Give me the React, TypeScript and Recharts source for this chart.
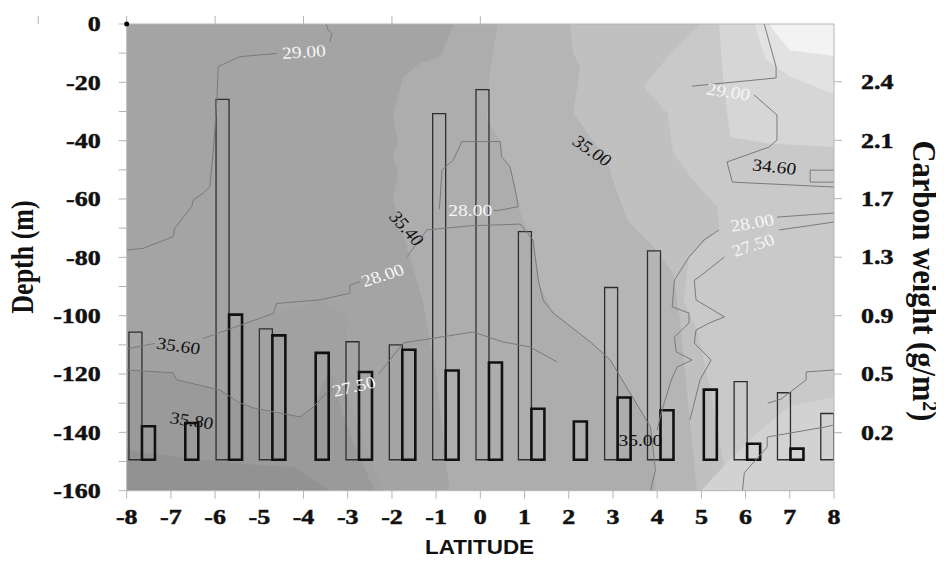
import React from 'react';
import { ComposedChart, XAxis, YAxis, Bar, Line, Area, Scatter, ReferenceDot } from 'recharts';

// stations (latitude of each bar pair) and carbon weights
const STATION_LAT = [-7.65, -6.67, -5.68, -4.7, -3.72, -2.74, -1.76, -0.78, 0.2, 1.16, 2.12, 3.11, 4.08, 5.06, 6.04, 7.02, 8.0];
const THIN_BARS = [0.83, null, 2.29, 0.85, null, 0.77, 0.75, 2.2, 2.35, 1.46, null, 1.11, 1.34, null, 0.52, 0.45, 0.32];
const THICK_BARS = [0.24, 0.26, 0.94, 0.81, 0.7, 0.58, 0.72, 0.59, 0.64, 0.35, 0.27, 0.42, 0.34, 0.47, 0.13, 0.1, null];
const BAR_BASE = 0.03;

const LAT_TICKS = [-8, -7, -6, -5, -4, -3, -2, -1, 0, 1, 2, 3, 4, 5, 6, 7, 8];
const TOP_TICKS = [-8, -6, -4, -2, 0, 2, 4, 6, 8];
const DEPTH_TICKS = [-160, -150, -140, -130, -120, -110, -100, -90, -80, -70, -60, -50, -40, -30, -20, -10, 0];
const CARBON_TICKS = [0.2, 0.567, 0.933, 1.3, 1.667, 2.033, 2.4];
const CARBON_LABELS = ['0.2', '0.5', '0.9', '1.3', '1.7', '2.1', '2.4'];

// filled contour bands, [lat, depth] outlines
const BAND_BASE = [[-8, 0], [-8, -160], [8, -160], [8, 0]];
const BAND_LEFT_MID = [[-8, -111.4], [-6.27, -107.8], [-4.68, -99.2], [-3.63, -94.6], [-3.0, -100], [-3.1, -125], [-2.2, -160]];
const BAND_LEFT_LOW = [[-8, -118.6], [-6.95, -119.6], [-6.87, -122], [-5.89, -125.5], [-5.44, -129.9], [-5.14, -131.6], [-4.08, -134.7], [-3.78, -131.3], [-3.4, -118], [-3.1, -135], [-2.4, -160]];
const BAND_BOTTOM = [[-8, -146], [-6.6, -149], [-5.2, -151], [-4.2, -152], [-3.4, -160]];
const BAND_MID = [[-0.6, 0], [-0.91, -11.3], [-1.36, -13.4], [-1.75, -18.2], [-1.98, -31.9], [-1.86, -39.8], [-1.98, -45.6], [-1.86, -51.1], [-1.98, -60.3], [-1.64, -77.5], [-1.3, -95], [-1.0, -120], [-0.7, -160], [8, -160], [8, 0]];
const BAND_MID2 = [[0.4, 0], [0.22, -15.8], [0.15, -32.9], [0.45, -40.3], [0.48, -45.5], [0.67, -48.9], [0.79, -56.9], [0.86, -62.6], [1.0, -68.6], [1.2, -74], [1.35, -90], [1.65, -99], [2.5, -109], [2.94, -115], [3.85, -138], [3.96, -160], [8, -160], [8, 0]];
const BAND_RIGHT1 = [[2.03, 0], [2.1, -10], [2.26, -14.7], [2.1, -30.5], [2.42, -37.4], [2.87, -46.6], [3.0, -53.5], [3.32, -67.2], [3.91, -76.4], [4.36, -85.4], [4.52, -101.5], [4.7, -130], [4.9, -160], [8, -160], [8, 0]];
const BAND_RIGHT2 = [[4.98, 0], [4.3, -10], [3.69, -21.6], [4.23, -30.5], [4.36, -44.2], [4.81, -53.5], [5.36, -62.7], [5.4, -70], [4.72, -80], [4.6, -95], [4.9, -105], [5.2, -125], [5.6, -160], [8, -160], [8, 0]];
const BAND_BOTTOM_RIGHT = [[5.0, -160], [5.6, -150], [6.2, -141], [7.0, -131], [8, -128], [8, -160]];
const BAND_TOP_RIGHT1 = [[5.4, 0], [5.5, -20], [5.65, -38.7], [6.5, -41], [8, -42.2], [8, 0]];
const BAND_TOP_RIGHT2 = [[6.2, 0], [6.45, -12], [7.0, -18], [8, -24], [8, 0]];
const BAND_TOP_RIGHT3 = [[6.55, 0], [6.62, -2], [7.0, -9], [8, -11], [8, 0]];

// contour lines, [lat, depth]
const LINE_29_W1 = [[-8, -77.5], [-7.62, -76.9], [-6.95, -72.9], [-6.91, -70], [-6.53, -62.6], [-6.49, -60.3], [-6.27, -58], [-6.12, -55.8], [-6.04, -43.2], [-5.96, -26.1], [-5.93, -14.6], [-5.44, -11.2], [-4.61, -10.1]];
const LINE_29_W2 = [[-3.4, -6.1], [-3.36, -3.2], [-3.44, -2.1], [-3.49, 0]];
const LINE_MID_A = [[-8, -111.4], [-7.36, -109.5]];
const LINE_MID_B = [[-6.27, -107.8], [-4.68, -99.2], [-4.61, -95.8], [-3.63, -94.6], [-2.95, -92.3], [-2.95, -89.5], [-2.72, -88.3]];
const LINE_MID_C = [[-1.66, -79.8], [-1.21, -70.6], [-0.23, -69.2], [0.9, -68.6], [1.19, -74], [1.31, -87.8], [1.42, -94.6], [1.65, -99.1], [2.49, -109], [2.94, -115.2], [3.85, -138.2], [3.96, -152.9], [3.85, -160]];
const LOOP_28 = [[-0.93, -63.5], [-0.91, -60.3], [-0.87, -50.1], [-0.61, -46.6], [-0.42, -40.3], [0.45, -40.3], [0.48, -45.5], [0.67, -48.9], [0.79, -56.9], [0.86, -62.6], [0.45, -63.8], [0.3, -64]];
const LINE_LOW_A = [[-8, -118.6], [-6.95, -119.6], [-6.87, -122], [-5.89, -125.5], [-5.44, -129.9], [-5.14, -131.6], [-4.08, -134.7], [-3.78, -131.3], [-3.45, -126]];
const LINE_LOW_B = [[-2.3, -120], [-1.74, -109.3], [-0.16, -105.6], [0.51, -109], [1.12, -110.7], [1.74, -115.9]];
const LINE_29_E1 = [[4.79, -21.3], [6.69, -18.5], [6.69, -14.7], [6.46, -2.1], [6.42, 0]];
const LINE_29_E2 = [[6.19, -24.3], [6.71, -31.2], [6.71, -39.8], [6.53, -42.2], [5.58, -47.3], [5.7, -54.2], [8, -55.9]];
const LINE_BOX = [[8, -50.1], [7.46, -50.1], [7.46, -54.2], [8, -54.2]];
const LINE_28_E1 = [[8, -64.8], [6.71, -66.2]];
const LINE_28_E2 = [[5.4, -70.6], [5.06, -74], [4.72, -79.9], [4.39, -87.8], [4.34, -97], [4.72, -99.1], [4.72, -102.5], [4.39, -107.3], [4.43, -112.4], [4.79, -115.2], [4.45, -117.6], [4.32, -122], [4.09, -133.4], [4.0, -139.2]];
const LINE_275_E1 = [[8, -67.9], [6.76, -70.6]];
const LINE_275_E2 = [[5.52, -79.9], [4.95, -86.7], [4.84, -87.8], [4.88, -94.6], [5.52, -100.4], [5.18, -102.5], [4.88, -104.9], [4.84, -109.4], [5.22, -115.2], [4.97, -122], [4.74, -135.8]];
const LINE_BOTTOM_E = [[5.93, -160], [5.97, -153.9], [6.49, -145], [6.49, -141.6], [7.78, -138.2], [8, -137.5]];
const LINE_LOW_E = [[8, -118.6], [7.37, -119.3], [7.37, -122], [6.8, -128.6], [6.5, -130]];

const CONTOUR_LABELS = [
  { lat: -3.99, depth: -9.6, text: '29.00', angle: -4, white: true },
  { lat: -1.67, depth: -70.1, text: '35.40', angle: 52, white: false },
  { lat: -2.21, depth: -86.2, text: '28.00', angle: -20, white: true },
  { lat: -0.23, depth: -63.9, text: '28.00', angle: 0, white: true },
  { lat: 2.53, depth: -43.5, text: '35.00', angle: 38, white: false },
  { lat: 5.61, depth: -23.3, text: '29.00', angle: 10, white: true },
  { lat: 6.65, depth: -49, text: '34.60', angle: 7, white: false },
  { lat: 6.15, depth: -68.2, text: '28.00', angle: -10, white: true },
  { lat: 6.17, depth: -75.8, text: '27.50', angle: -20, white: true },
  { lat: -6.83, depth: -110.4, text: '35.60', angle: 9, white: false },
  { lat: -6.53, depth: -136, text: '35.80', angle: 10, white: false },
  { lat: -2.86, depth: -124.3, text: '27.50', angle: -15, white: true },
  { lat: 3.62, depth: -142.6, text: '35.00', angle: 0, white: false },
];

const W = 928;
const H = 547;
const SERIF = "'Liberation Serif', 'Times New Roman', serif";
const SANS = "'Liberation Sans', Arial, sans-serif";
const SX = 1.18;
const AXIS = { stroke: '#b5b5b5', strokeWidth: 1 };
const TICK_FONT = { fontFamily: SERIF, fontWeight: 700, fontSize: 22, fill: '#111', stroke: '#111', strokeWidth: 0.5 };

const pts = (arr: number[][]) => arr.map(([lat, depth]) => ({ lat, depth }));

const BANDS: [number[][], number, string][] = [
  [BAND_BASE, 0, '#a4a4a4'],
  [BAND_LEFT_MID, -160, '#a1a1a1'],
  [BAND_LEFT_LOW, -160, '#9a9a9a'],
  [BAND_BOTTOM, -160, '#929292'],
  [BAND_MID, 0, '#adadad'],
  [BAND_MID2, 0, '#b5b5b5'],
  [BAND_RIGHT1, 0, '#c0c0c0'],
  [BAND_RIGHT2, 0, '#c9c9c9'],
  [BAND_BOTTOM_RIGHT, -160, '#d2d2d2'],
  [BAND_TOP_RIGHT1, 0, '#d6d6d6'],
  [BAND_TOP_RIGHT2, 0, '#e2e2e2'],
  [BAND_TOP_RIGHT3, 0, '#f3f3f3'],
];

const LINES = [
  LINE_29_W1, LINE_29_W2, LINE_MID_A, LINE_MID_B, LINE_MID_C, LOOP_28, LINE_LOW_A, LINE_LOW_B,
  LINE_29_E1, LINE_29_E2, LINE_BOX, LINE_28_E1, LINE_28_E2, LINE_275_E1, LINE_275_E2, LINE_BOTTOM_E, LINE_LOW_E,
];

function LeftTick(p: any) {
  if (p.payload.value % 20 !== 0) return <g />;
  return (
    <text transform={`translate(${p.x},${p.y}) scale(${SX},1)`} textAnchor="end" dy="0.33em" style={TICK_FONT}>
      {p.payload.value}
    </text>
  );
}

function RightTick(p: any) {
  return (
    <text transform={`translate(${p.x},${p.y}) scale(${SX},1)`} textAnchor="start" dy="0.33em" style={TICK_FONT}>
      {CARBON_LABELS[p.index]}
    </text>
  );
}

function BottomTick(p: any) {
  return (
    <text transform={`translate(${p.x},${p.y}) scale(${SX},1)`} textAnchor="middle" dy="0.66em" style={TICK_FONT}>
      {p.payload.value}
    </text>
  );
}

function ContourText(p: any) {
  const d = p.payload;
  return (
    <text transform={`translate(${p.cx},${p.cy}) scale(1.15,1) rotate(${d.angle})`} textAnchor="middle" dy="0.33em"
      style={{ fontFamily: SERIF, fontSize: 17, fontWeight: 400, fill: d.white ? '#f6f6f6' : '#111' }}>{d.text}</text>
  );
}

export default function App() {
  const data = STATION_LAT.map((lat, i) => ({
    lat,
    thin: THIN_BARS[i] == null ? null : [BAR_BASE, THIN_BARS[i]],
    thick: THICK_BARS[i] == null ? null : [BAR_BASE, THICK_BARS[i]],
  }));

  return (
    <div style={{ position: 'relative', width: W, height: H }}>
      <ComposedChart width={W} height={H} data={data} barGap={0}
        margin={{ top: 8, right: 42, bottom: 24.3, left: 38.7 }}>
        {BANDS.map(([band, base, fill], i) => (
          <Area key={`band${i}`} data={pts(band)} dataKey="depth" xAxisId="c" yAxisId="depth" type="linear"
            baseValue={base} fill={fill} fillOpacity={1} stroke="none" dot={false} activeDot={false}
            isAnimationActive={false} />
        ))}
        {LINES.map((line, i) => (
          <Line key={`line${i}`} data={pts(line)} dataKey="depth" xAxisId="c" yAxisId="depth" type="linear"
            stroke="#7a7a7a" strokeWidth={1} dot={false} activeDot={false} isAnimationActive={false} />
        ))}
        <Bar dataKey="thin" xAxisId="bar" yAxisId="carbon" barSize={13} fill="none" stroke="#2e2e2e"
          strokeWidth={1.3} isAnimationActive={false} />
        <Bar dataKey="thick" xAxisId="bar" yAxisId="carbon" barSize={13} fill="none" stroke="#111"
          strokeWidth={2.6} isAnimationActive={false} />
        <Scatter data={CONTOUR_LABELS} dataKey="depth" xAxisId="c" yAxisId="depth" shape={ContourText}
          isAnimationActive={false} />

        <XAxis xAxisId="bar" dataKey="lat" type="number" domain={[-8, 8]} ticks={LAT_TICKS} interval={0}
          allowDataOverflow height={40} tickSize={8} tickMargin={11} tick={BottomTick}
          axisLine={AXIS} tickLine={AXIS} />
        <XAxis xAxisId="top" orientation="top" type="number" domain={[-8, 8]} ticks={TOP_TICKS} interval={0}
          allowDataOverflow height={8} tickSize={8} tick={() => <g />} axisLine={AXIS} tickLine={AXIS} />
        <XAxis xAxisId="c" dataKey="lat" type="number" domain={[-8, 8]} allowDataOverflow hide />
        <YAxis yAxisId="depth" type="number" domain={[-160, 0]} ticks={DEPTH_TICKS} interval={0}
          allowDataOverflow width={80} tickSize={8} tickMargin={18} tick={LeftTick}
          axisLine={AXIS} tickLine={AXIS} />
        <YAxis yAxisId="carbon" orientation="right" type="number" domain={[-0.164, 2.762]} ticks={CARBON_TICKS}
          interval={0} allowDataOverflow width={60} tickSize={8} tickMargin={19} tick={RightTick}
          axisLine={AXIS} tickLine={AXIS} />
        <ReferenceDot x={-8} y={0} xAxisId="c" yAxisId="depth" r={2.5} fill="#000" stroke="none" ifOverflow="visible" />
      </ComposedChart>

      <svg width={W} height={H} style={{ position: 'absolute', left: 0, top: 0, overflow: 'visible', pointerEvents: 'none' }}>
        <text transform="translate(25,249) scale(1.2,1) rotate(-90)" textAnchor="middle"
          style={{ fontFamily: SERIF, fontWeight: 700, fontSize: 26, fill: '#111' }}>Depth (m)</text>
        <text transform="translate(905,273) scale(1.1,1) rotate(90)" textAnchor="middle"
          style={{ fontFamily: SERIF, fontWeight: 700, fontSize: 30.5, fill: '#111' }}>
          Carbon weight (g/m<tspan dy="-0.45em" fontSize="0.65em">2</tspan><tspan dy="0.29em">)</tspan>
        </text>
        <text transform="translate(471.5,546) scale(1.12,1)" textAnchor="middle"
          style={{ fontFamily: SANS, fontWeight: 700, fontSize: 20, fill: '#111' }}>LATITUDE</text>
      </svg>
    </div>
  );
}
